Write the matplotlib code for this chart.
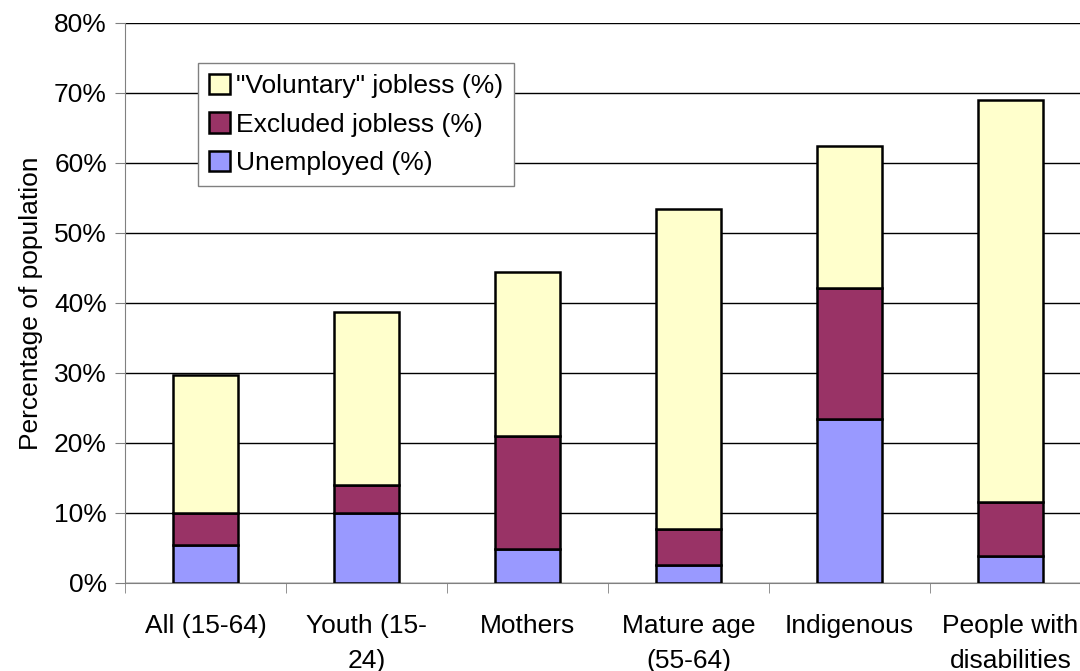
import numpy as np
import matplotlib.pyplot as plt
from matplotlib.ticker import FuncFormatter

plt.rcParams['font.family'] = ['Liberation Sans', 'DejaVu Sans']
plt.rcParams['font.size'] = 19

categories = ["All (15-64)", "Youth (15-\n24)", "Mothers", "Mature age\n(55-64)",
              "Indigenous", "People with\ndisabilities"]
unemployed = [5.4, 10.0, 4.9, 2.6, 23.4, 3.9]
excluded = [4.6, 4.0, 16.1, 5.1, 18.7, 7.7]
voluntary = [19.7, 24.7, 23.4, 45.7, 20.3, 57.4]

fig = plt.figure(figsize=(10.8, 6.71), dpi=100)
ax = fig.add_axes([125 / 1080, 1 - 583 / 671, 966 / 1080, 560 / 671])

x = np.arange(len(categories))
w = 0.40
edge = dict(edgecolor="black", linewidth=1.8, zorder=3)
b1 = ax.bar(x, unemployed, w, color="#9999FF", label="Unemployed (%)", **edge)
b2 = ax.bar(x, excluded, w, bottom=unemployed, color="#993366",
            label="Excluded jobless (%)", **edge)
bottom2 = np.array(unemployed) + np.array(excluded)
b3 = ax.bar(x, voluntary, w, bottom=bottom2, color="#FFFFCC",
            label='"Voluntary" jobless (%)', **edge)

ax.set_xlim(-0.5, len(categories) - 0.5)
ax.set_ylim(0, 80)
ax.set_yticks(np.arange(0, 81, 10))
ax.yaxis.set_major_formatter(FuncFormatter(lambda v, p: f"{v:.0f}%"))
ax.grid(axis="y", color="black", linewidth=1.0, zorder=0)
ax.set_axisbelow(True)

ax.set_xticks(x)
ax.set_xticklabels(categories, linespacing=1.6)
ax.tick_params(axis="x", length=0, pad=22)
ax.set_xticks(np.arange(-0.5, len(categories), 1), minor=True)
ax.tick_params(axis="x", which="minor", length=7, color="#808080", direction="out")
ax.tick_params(axis="y", length=7, color="#808080", direction="out", pad=6)

for s in ["top", "right"]:
    ax.spines[s].set_visible(False)
ax.spines["left"].set_color("#808080")
ax.spines["bottom"].set_color("#808080")

ax.set_ylabel("Percentage of population", labelpad=8)

leg = ax.legend(handles=[b3, b2, b1], loc="upper left",
                bbox_to_anchor=(73 / 966, 1 - 40 / 560), fancybox=False,
                framealpha=1, edgecolor="#808080", handlelength=0.8,
                handleheight=0.8, handletextpad=0.25, borderpad=0.4,
                labelspacing=0.55, borderaxespad=0)
leg.get_frame().set_linewidth(1.0)

fig.savefig("out.png", dpi=100)
